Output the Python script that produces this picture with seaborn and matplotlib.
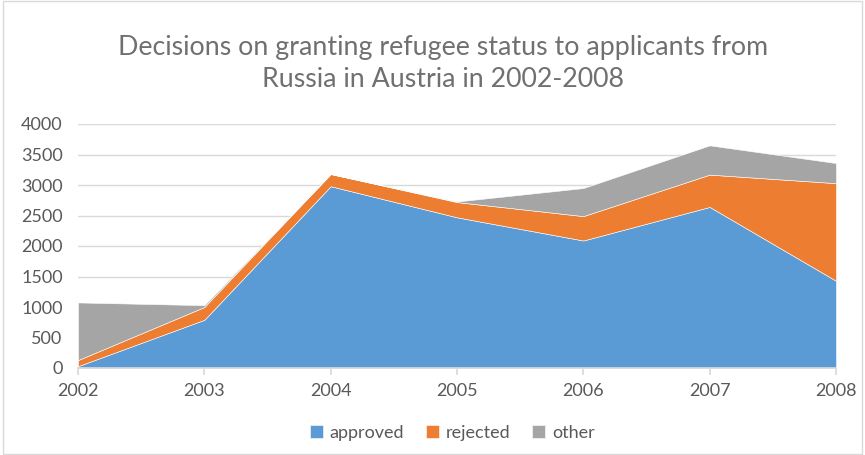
import matplotlib
matplotlib.use("Agg")
import matplotlib.pyplot as plt
import seaborn as sns
import pandas as pd
from matplotlib.patches import Rectangle

# Values
years = [2002, 2003, 2004, 2005, 2006, 2007, 2008]
approved = [30, 790, 2980, 2470, 2090, 2640, 1430]
rejected = [100, 210, 200, 250, 400, 530, 1600]
other = [945, 30, 0, 10, 460, 480, 330]

df = pd.DataFrame({"year": years, "approved": approved,
                   "rejected": rejected, "other": other})

sns.set_theme(style="white")
plt.rcParams["font.family"] = ["Lato", "DejaVu Sans"]

colors = ["#5B9BD5", "#ED7D31", "#A5A5A5"]
text_color = "#595959"

fig = plt.figure(figsize=(8.65, 4.55), dpi=100)
ax = fig.add_axes([78 / 865, 1 - 368 / 455, (836 - 78) / 865, (368 - 124) / 455])

ax.stackplot(df["year"], df["approved"], df["rejected"], df["other"],
             labels=["approved", "rejected", "other"], colors=colors,
             edgecolor="white", linewidth=0.4)

ax.set_xlim(2002, 2008)
ax.set_ylim(0, 4000)
ax.set_yticks(range(0, 4001, 500))
ax.set_xticks(years)
ax.yaxis.grid(True, color="#D9D9D9", linewidth=1)
ax.set_axisbelow(True)
for side in ["top", "right", "left"]:
    ax.spines[side].set_visible(False)
ax.spines["bottom"].set_color("#D9D9D9")
ax.tick_params(axis="x", bottom=True, length=5, color="#D9D9D9",
               labelsize=13, labelcolor=text_color, pad=6)
ax.tick_params(axis="y", left=False, length=0, labelsize=13,
               labelcolor=text_color, pad=11)

fig.text(0.512, 0.86, "Decisions on granting refugee status to applicants from\nRussia in Austria in 2002-2008",
         ha="center", va="center", fontsize=19.3, color="#707070",
         linespacing=1.35)

handles, labels = ax.get_legend_handles_labels()
fig.legend(handles, labels, loc="center", bbox_to_anchor=(0.523, 1 - 433 / 455),
           ncol=3, frameon=False, fontsize=13, labelcolor=text_color,
           handlelength=0.7, handleheight=0.7, handletextpad=0.4, columnspacing=1.2)

fig.add_artist(Rectangle((0.003, 0.003), 0.994, 0.994, transform=fig.transFigure,
                         fill=False, edgecolor="#D9D9D9", linewidth=1))

fig.savefig("out.png", dpi=100, facecolor="white")
